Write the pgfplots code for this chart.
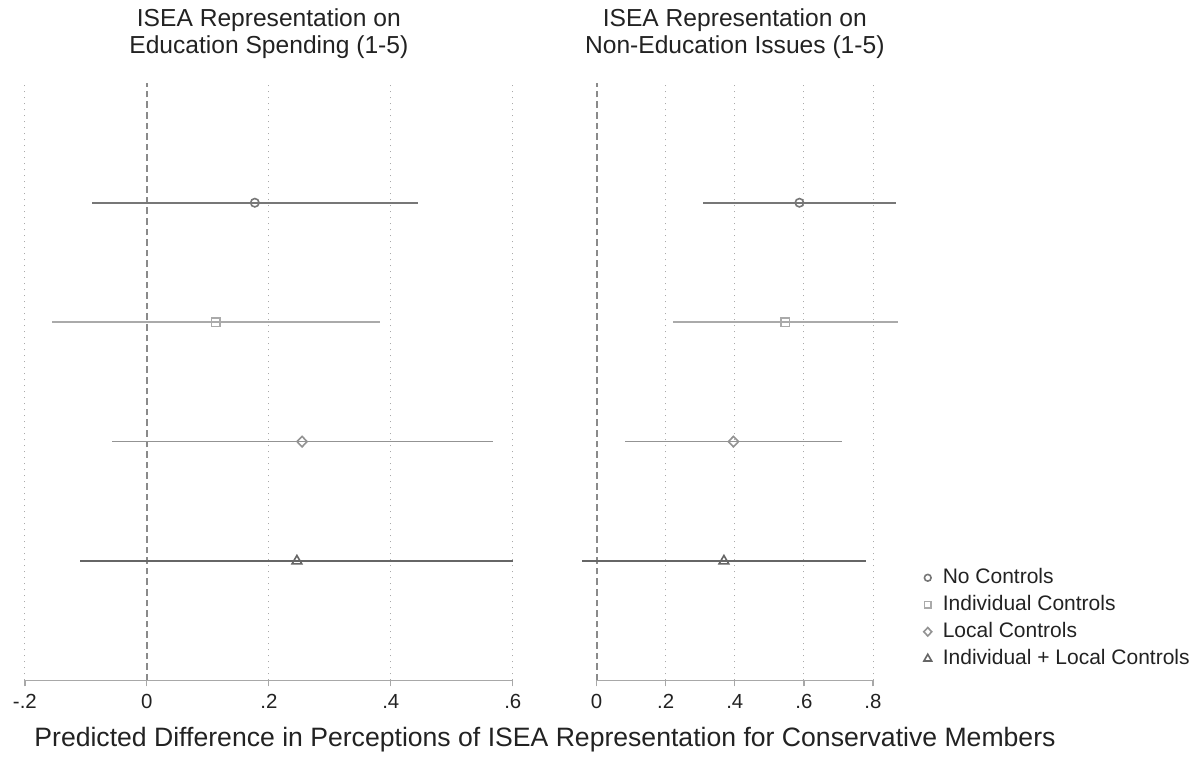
\documentclass[border=0pt]{standalone}
\usepackage{pgfplots}
\pgfplotsset{compat=1.18}
\usepackage{fontspec}
\setmainfont{Liberation Sans}

\definecolor{txt}{HTML}{222222}
\definecolor{axgray}{HTML}{A8A8A8}
\definecolor{gridgray}{HTML}{AAAAAA}
\definecolor{zgray}{HTML}{8A8A8A}
\definecolor{cnone}{HTML}{777777}
\definecolor{cind}{HTML}{AAAAAA}
\definecolor{cloc}{HTML}{939393}
\definecolor{cboth}{HTML}{666666}

\pgfplotsset{
  panel/.style={
    scale only axis, height=298.6pt, anchor=south west,
    ymin=0, ymax=5,
    axis y line=none, axis x line*=bottom,
    x axis line style={-, color=axgray, line width=0.75pt},
    xtick align=outside, major tick length=3pt,
    tick style={color=axgray, line width=0.6pt},
    xmajorgrids,
    major grid style={color=gridgray, line width=0.5pt, dash pattern=on 0.5pt off 2.5pt},
    extra x ticks={0}, extra x tick labels={0},
    extra x tick style={grid=major,
      major grid style={color=zgray, line width=0.9pt, dash pattern=on 3.3pt off 2pt}},
    clip=false,
    /pgf/number format/assume math mode=true,
    xticklabel style={font=\fontsize{10.2}{12}\selectfont, text=txt, anchor=base, yshift=-11pt},
    title style={font=\fontsize{12.3}{13.75}\selectfont, text=txt, align=center,
      anchor=south, at={(0.5,1)}, inner sep=0pt, yshift=6pt},
  },
  ebar/.style={only marks, line width=0.8pt,
    error bars/x dir=both, error bars/x explicit, error bars/error mark=none,
    error bars/error bar style={line width=0.85pt}},
}

\begin{document}
\begin{tikzpicture}
\useasboundingbox (0,0) rectangle (597pt,379.5pt);

\begin{axis}[panel, at={(12.45pt,39.25pt)}, width=243.95pt,
  xmin=-0.2, xmax=0.6,
  xtick={-0.2,0.2,0.4,0.6}, xticklabels={-.2,.2,.4,.6},
  title={ISEA Representation on\\Education Spending (1-5)}]
\addplot[ebar, color=cnone, mark=o, mark size=2.1pt] coordinates {(0.177,4) +- (0.267,0)};
\addplot[ebar, color=cind, mark=square, mark size=2.1pt] coordinates {(0.113,3) +- (0.269,0)};
\addplot[ebar, color=cloc, mark=diamond, mark size=2.6pt, mark options={xscale=1.3}] coordinates {(0.2545,2) +- (0.3125,0)};
\addplot[ebar, color=cboth, mark=triangle, mark size=2.8pt] coordinates {(0.246,1) +- (0.355,0)};
\end{axis}

\begin{axis}[panel, at={(298.3pt,39.25pt)}, width=138.2pt,
  xmin=0, xmax=0.8,
  xtick={0.2,0.4,0.6,0.8}, xticklabels={.2,.4,.6,.8},
  title={ISEA Representation on\\Non-Education Issues (1-5)},
  legend style={at={(1.182,0.1896)}, anchor=north west, draw=none, fill=none,
    inner sep=0pt, row sep=3pt, font=\fontsize{10.5}{12}\selectfont, text=txt,
    nodes={inner sep=0pt, text height=8pt, text depth=2.5pt},
    /tikz/every odd column/.append style={column sep=5.5pt}},
  legend cell align=left,
  legend image code/.code={\draw[mark repeat=2, mark phase=2, every mark/.append style={scale=0.8}]
    plot coordinates {(0pt,0.2pt) (4pt,0.2pt) (8pt,0.2pt)};}]
\addplot[ebar, color=cnone, mark=o, mark size=2.1pt] coordinates {(0.587,4) +- (0.279,0)};
\addplot[ebar, color=cind, mark=square, mark size=2.1pt] coordinates {(0.546,3) +- (0.325,0)};
\addplot[ebar, color=cloc, mark=diamond, mark size=2.6pt, mark options={xscale=1.3}] coordinates {(0.396,2) +- (0.3135,0)};
\addplot[ebar, color=cboth, mark=triangle, mark size=2.8pt] coordinates {(0.3685,1) +- (0.4105,0)};
\legend{No Controls, Individual Controls, Local Controls, Individual + Local Controls}
\end{axis}

\node[anchor=base west, inner sep=0pt, text=txt, font=\fontsize{13.3}{15}\selectfont]
  at (17pt,6.3pt) {Predicted Difference in Perceptions of ISEA Representation for Conservative Members};
\end{tikzpicture}
\end{document}
